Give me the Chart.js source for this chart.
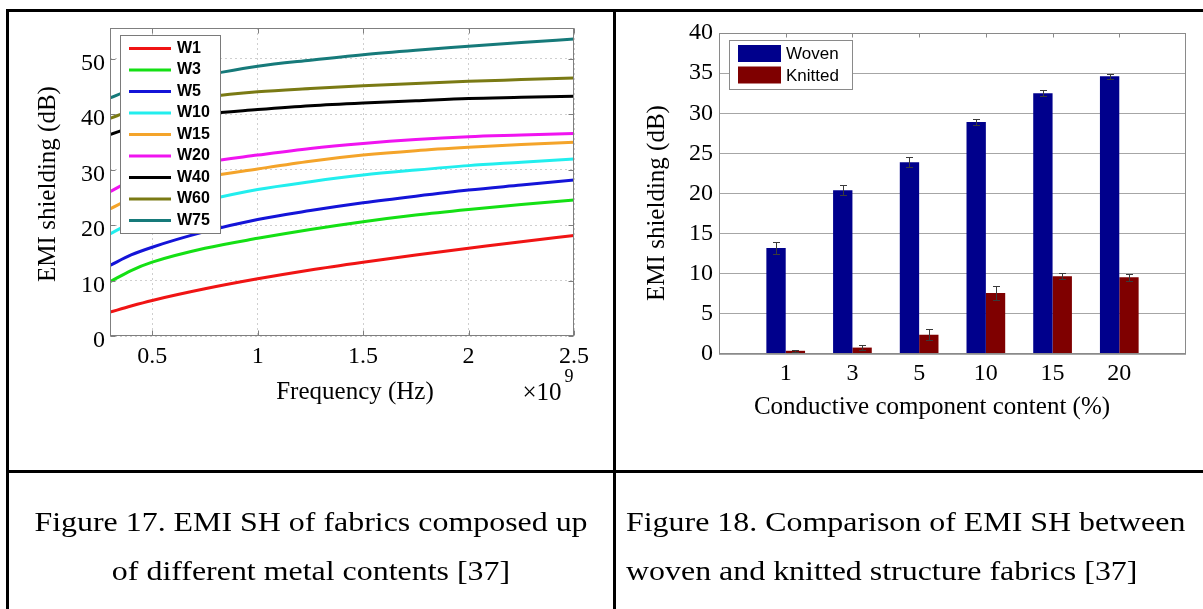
<!DOCTYPE html>
<html lang="en">
<head>
<meta charset="UTF-8">
<title>EMI shielding of metal fabrics</title>
<script src="https://cdn.jsdelivr.net/npm/chart.js@4.4.0/dist/chart.umd.min.js"></script>
<style>
	body { margin: 0; background: #fff; width: 1203px; height: 609px; overflow: hidden; position: relative; font-family: "Liberation Serif", "Times New Roman", serif; }
	.rule { position: absolute; background: #000; }
	#leftBox { position: absolute; left: 0; top: 0; }
	#rightBox { position: absolute; left: 617px; top: 0; }
	.cap { position: absolute; font-size: 28px; line-height: 48.5px; color: #000; white-space: nowrap; }
</style>
</head>
<body>
	<canvas id="leftBox" width="612" height="470"></canvas>
	<canvas id="rightBox" width="586" height="470"></canvas>

	<!-- table lines -->
	<div class="rule" style="left:6px; top:9px; width:1197px; height:3px;"></div>
	<div class="rule" style="left:6px; top:9px; width:3px; height:600px;"></div>
	<div class="rule" style="left:613px; top:9px; width:3px; height:600px;"></div>
	<div class="rule" style="left:6px; top:470px; width:1197px; height:3px;"></div>

	<div class="cap" style="left:9px; top:498px; width:604px; text-align:center; transform:scaleX(1.14);">
		Figure 17. EMI SH of fabrics composed up<br>of different metal contents [37]
	</div>
	<div class="cap" style="left:626px; top:498px; transform-origin:0 0; transform:scaleX(1.14);">
		Figure 18. Comparison of EMI SH between<br>woven and knitted structure fabrics [37]
	</div>

	<script>
		// Figure 17: EMI shielding vs frequency (x in units of 1e9 Hz)
		var freqPoints = [0.3, 0.4, 0.5, 0.75, 1.0, 1.25, 1.5, 1.75, 2.0, 2.25, 2.5];
		var w1  = [4.3, 5.4, 6.4, 8.5, 10.3, 11.9, 13.3, 14.6, 15.8, 17.0, 18.1];
		var w3  = [9.8, 11.8, 13.3, 15.8, 17.6, 19.2, 20.6, 21.8, 22.8, 23.7, 24.5];
		var w5  = [12.7, 14.6, 16.0, 18.8, 21.0, 22.6, 24.0, 25.2, 26.3, 27.2, 28.1];
		var w10 = [18.4, 20.4, 21.9, 24.4, 26.4, 27.8, 29.0, 29.9, 30.7, 31.3, 31.9];
		var w15 = [22.9, 24.8, 26.2, 28.6, 30.1, 31.5, 32.6, 33.4, 34.0, 34.5, 34.9];
		var w20 = [26.0, 28.0, 29.3, 31.3, 32.6, 33.8, 34.7, 35.4, 35.9, 36.2, 36.5];
		var w40 = [36.3, 37.6, 38.5, 40.0, 40.8, 41.5, 42.0, 42.4, 42.8, 43.0, 43.2];
		var w60 = [39.2, 40.6, 41.5, 43.0, 44.0, 44.6, 45.1, 45.5, 45.9, 46.2, 46.5];
		var w75 = [42.9, 44.4, 45.4, 47.0, 48.6, 49.7, 50.7, 51.5, 52.2, 52.9, 53.5];
		var seriesNames = ["W1", "W3", "W5", "W10", "W15", "W20", "W40", "W60", "W75"];
		var freqTicks = [0.5, 1, 1.5, 2, 2.5];
		var shieldTicks = [0, 10, 20, 30, 40, 50];

		// Figure 18: woven vs knitted
		var contentLabels = ["1", "3", "5", "10", "15", "20"];
		var wovenSH = [13.2, 20.4, 23.9, 28.9, 32.5, 34.6];
		var wovenErr = [0.8, 0.6, 0.6, 0.4, 0.35, 0.35];
		var knittedSH = [0.4, 0.8, 2.4, 7.6, 9.7, 9.55];
		var knittedErr = [0.15, 0.3, 0.7, 0.9, 0.4, 0.4];

		var curveColors = ["#f01414", "#14e014", "#1414d8", "#22eeee", "#f4a42a", "#f014f0", "#000000", "#7a7a14", "#167a7a"];
		var serif = '"Liberation Serif", "Times New Roman", serif';
		var sans = '"Liberation Sans", Arial, sans-serif';

		// frame round the plot with small inward ticks (matlab look)
		var plotFrame = {
			id: "plotFrame",
			afterDraw: function (chart, args, o) {
				var ctx = chart.ctx, a = chart.chartArea;
				var L = Math.round(a.left) + 0.5, T = Math.round(a.top) + 0.5;
				var R = Math.round(a.right) - 0.5, B = Math.round(a.bottom) - 0.5;
				ctx.save();
				ctx.strokeStyle = o.color;
				ctx.lineWidth = 1;
				ctx.beginPath();
				var xs = chart.scales.x;
				o.xTicks.forEach(function (v) {
					var px = Math.round(xs.getPixelForValue(v)) + 0.5;
					ctx.moveTo(px, T); ctx.lineTo(px, T + o.len);
					if (o.bottomTicks) { ctx.moveTo(px, B); ctx.lineTo(px, B - o.len); }
				});
				var ys = chart.scales.y;
				(o.yTicks || []).forEach(function (v) {
					var py = Math.round(ys.getPixelForValue(v)) + 0.5;
					ctx.moveTo(L, py); ctx.lineTo(L + o.len, py);
					ctx.moveTo(R, py); ctx.lineTo(R - o.len, py);
				});
				ctx.stroke();
				ctx.strokeRect(L, T, R - L, B - T);
				ctx.restore();
			}
		};

		// axis titles placed where the figure has them
		var axisText = {
			id: "axisText",
			afterDraw: function (chart, args, o) {
				var ctx = chart.ctx;
				ctx.save();
				ctx.fillStyle = "#000";
				ctx.textAlign = "center";
				ctx.textBaseline = "middle";
				o.items.forEach(function (t) {
					ctx.save();
					ctx.font = t.font;
					ctx.translate(t.x, t.y);
					if (t.rot) ctx.rotate(t.rot);
					ctx.fillText(t.text, 0, 0);
					ctx.restore();
				});
				ctx.restore();
			}
		};

		var lineKey = {
			id: "lineKey",
			afterDatasetsDraw: function (chart, args, o) {
				var ctx = chart.ctx, a = chart.chartArea;
				var x0 = Math.round(a.left + o.dx), y0 = Math.round(a.top + o.dy);
				ctx.save();
				ctx.fillStyle = "#fff";
				ctx.fillRect(x0, y0, o.w, o.h);
				ctx.strokeStyle = "#7a7a7a";
				ctx.lineWidth = 1;
				ctx.strokeRect(x0 + 0.5, y0 + 0.5, o.w, o.h);
				ctx.font = o.font;
				ctx.textBaseline = "middle";
				chart.data.datasets.forEach(function (ds, i) {
					var yy = y0 + o.first + i * o.step;
					ctx.strokeStyle = ds.borderColor;
					ctx.lineWidth = 3;
					ctx.beginPath();
					ctx.moveTo(x0 + o.lineStart, yy);
					ctx.lineTo(x0 + o.lineEnd, yy);
					ctx.stroke();
					ctx.fillStyle = "#000";
					ctx.fillText(ds.label, x0 + o.textX, yy);
				});
				ctx.restore();
			}
		};

		var barKey = {
			id: "barKey",
			afterDatasetsDraw: function (chart, args, o) {
				var ctx = chart.ctx, a = chart.chartArea;
				var x0 = Math.round(a.left + o.dx), y0 = Math.round(a.top + o.dy);
				ctx.save();
				ctx.fillStyle = "#fff";
				ctx.fillRect(x0, y0, o.w, o.h);
				ctx.strokeStyle = "#8a8a8a";
				ctx.lineWidth = 1;
				ctx.strokeRect(x0 + 0.5, y0 + 0.5, o.w, o.h);
				ctx.font = o.font;
				ctx.textBaseline = "middle";
				chart.data.datasets.forEach(function (ds, i) {
					var top = y0 + o.first + i * o.step;
					ctx.fillStyle = ds.backgroundColor;
					ctx.fillRect(x0 + o.swatchX, top, o.swatchW, o.swatchH);
					ctx.fillStyle = "#000";
					ctx.fillText(ds.label, x0 + o.textX, top + o.swatchH / 2 + 1);
				});
				ctx.restore();
			}
		};

		var errorBars = {
			id: "errorBars",
			afterDatasetsDraw: function (chart, args, o) {
				var ctx = chart.ctx, ys = chart.scales.y;
				ctx.save();
				ctx.strokeStyle = o.color;
				ctx.lineWidth = 1;
				chart.data.datasets.forEach(function (ds, di) {
					var meta = chart.getDatasetMeta(di);
					ds.data.forEach(function (v, i) {
						if (v == null) return;
						var e = ds.errors[i];
						var px = Math.round(meta.data[i].x) + 0.5;
						var top = Math.round(ys.getPixelForValue(v + e)) + 0.5;
						var bot = Math.round(ys.getPixelForValue(v - e)) + 0.5;
						ctx.beginPath();
						ctx.moveTo(px, top); ctx.lineTo(px, bot);
						ctx.moveTo(px - o.cap, top); ctx.lineTo(px + o.cap, top);
						ctx.moveTo(px - o.cap, bot); ctx.lineTo(px + o.cap, bot);
						ctx.stroke();
					});
				});
				ctx.restore();
			}
		};

		var curveSets = [w1, w3, w5, w10, w15, w20, w40, w60, w75];

		new Chart(document.getElementById("leftBox"), {
			type: "line",
			data: {
				datasets: seriesNames.map(function (name, i) {
					return {
						label: name,
						data: freqPoints.map(function (f, j) { return { x: f, y: curveSets[i][j] }; }),
						borderColor: curveColors[i],
						borderWidth: 3,
						pointRadius: 0,
						cubicInterpolationMode: "monotone",
						fill: false
					};
				})
			},
			options: {
				responsive: false,
				animation: false,
				devicePixelRatio: 1,
				layout: { padding: { left: 0, top: 28, right: 38, bottom: 0 } },
				scales: {
					x: {
						type: "linear",
						min: 0.3,
						max: 2.5,
						afterBuildTicks: function (s) { s.ticks = freqTicks.map(function (v) { return { value: v }; }); },
						afterFit: function (s) { s.height = 134; },
						ticks: { color: "#000", padding: 6, font: { family: serif, size: 24 }, maxRotation: 0, callback: function (v) { return String(v); } },
						grid: { color: "#cfcfcf", drawTicks: false },
						border: { display: false, dash: [2, 3] }
					},
					y: {
						min: 0,
						max: 55.5,
						afterBuildTicks: function (s) { s.ticks = shieldTicks.map(function (v) { return { value: v }; }); },
						afterFit: function (s) { s.width = 110; },
						ticks: { color: "#000", padding: 5, labelOffset: 5, font: { family: serif, size: 24 } },
						grid: { color: "#cfcfcf", drawTicks: false },
						border: { display: false, dash: [2, 3] }
					}
				},
				plugins: {
					legend: { display: false },
					tooltip: { enabled: false },
					lineKey: { dx: 10, dy: 7, w: 100, h: 198, first: 13.5, step: 21.5, lineStart: 9, lineEnd: 51, textX: 57, font: "bold 16px " + sans },
					plotFrame: { color: "#7f7f7f", len: 5, xTicks: freqTicks, yTicks: shieldTicks, bottomTicks: true },
					axisText: {
						items: [
							{ text: "Frequency (Hz)", x: 355, y: 392, font: "25px " + serif },
							{ text: "\u00d710", x: 542, y: 393, font: "25px " + serif },
							{ text: "9", x: 569, y: 377, font: "18px " + serif },
							{ text: "EMI shielding (dB)", x: 48, y: 184, rot: -Math.PI / 2, font: "25px " + serif }
						]
					}
				}
			},
			plugins: [lineKey, plotFrame, axisText]
		});

		// pad the category axis with an empty slot each side, like the figure
		var barLabels = [""].concat(contentLabels, [""]);
		function padded(arr) { return [null].concat(arr, [null]); }

		new Chart(document.getElementById("rightBox"), {
			type: "bar",
			data: {
				labels: barLabels,
				datasets: [
					{ label: "Woven", data: padded(wovenSH), errors: padded(wovenErr), backgroundColor: "#00008c", borderWidth: 0 },
					{ label: "Knitted", data: padded(knittedSH), errors: padded(knittedErr), backgroundColor: "#7f0000", borderWidth: 0 }
				]
			},
			options: {
				responsive: false,
				animation: false,
				devicePixelRatio: 1,
				layout: { padding: { left: 0, top: 33, right: 17, bottom: 0 } },
				datasets: { bar: { categoryPercentage: 0.58, barPercentage: 1 } },
				scales: {
					x: {
						type: "category",
						offset: false,
						afterFit: function (s) { s.height = 116; },
						ticks: { color: "#000", padding: 5, autoSkip: false, maxRotation: 0, font: { family: serif, size: 24 } },
						grid: { display: false, drawTicks: false },
						border: { display: false }
					},
					y: {
						min: 0,
						max: 40,
						afterFit: function (s) { s.width = 102; },
						ticks: { stepSize: 5, color: "#000", padding: 6, font: { family: serif, size: 24 } },
						grid: { color: "#a6a6a6", drawTicks: false },
						border: { display: false }
					}
				},
				plugins: {
					legend: { display: false },
					tooltip: { enabled: false },
					errorBars: { color: "#3a3a3a", cap: 3.5 },
					barKey: { dx: 10, dy: 7, w: 123, h: 49, first: 5, step: 21.5, swatchX: 9, swatchW: 43, swatchH: 17, textX: 57, font: "17px " + sans },
					plotFrame: { color: "#8a8a8a", len: 4, xTicks: [1, 2, 3, 4, 5, 6], bottomTicks: false },
					axisText: {
						items: [
							{ text: "Conductive component content (%)", x: 315, y: 407, font: "25px " + serif },
							{ text: "EMI shielding (dB)", x: 40, y: 203, rot: -Math.PI / 2, font: "25px " + serif }
						]
					}
				}
			},
			plugins: [errorBars, barKey, plotFrame, axisText]
		});
	</script>
</body>
</html>
